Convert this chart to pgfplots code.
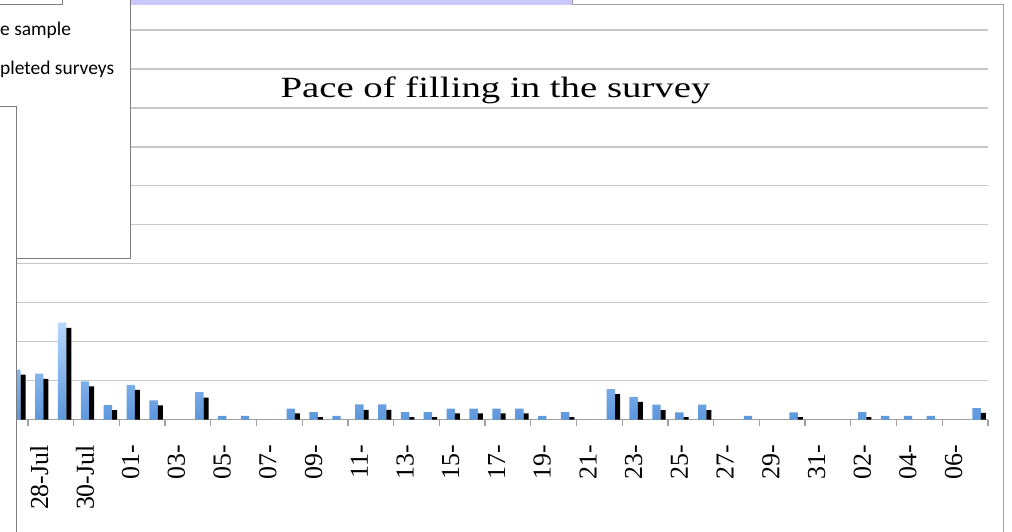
\documentclass[border=0pt]{standalone}
\usepackage{pgfplots}
\pgfplotsset{compat=1.18}
\usepackage{fontspec}
\setmainfont{Liberation Serif}
\newfontfamily\titlefont[FakeStretch=1.32]{Liberation Serif}
\newfontfamily\legfont{Carlito}

\definecolor{barhi}{RGB}{182,216,252}
\definecolor{barlo}{RGB}{92,150,220}
\definecolor{gridgray}{RGB}{200,200,200}
\definecolor{axisgray}{RGB}{160,160,160}
\definecolor{boxgray}{RGB}{125,125,125}
\definecolor{band}{RGB}{202,202,250}

\begin{document}
\begin{tikzpicture}
\useasboundingbox (0,0) rectangle (1012bp,532bp);
\clip (0,0) rectangle (1012bp,532bp);
\begin{axis}[
    at={(5bp,112.5bp)}, anchor=south west,
    width=983bp, height=389.5bp, scale only axis,
    xmin=0.5, xmax=43.5, ymin=0, ymax=100,
    ybar,
    axis x line*=bottom, axis y line*=left,
    x axis line style={draw=axisgray, line width=1.3bp},
    y axis line style={draw=none},
    ytick={0,10,...,100}, yticklabels={}, ytick style={draw=none},
    ymajorgrids, major grid style={draw=gridgray, line width=1.4bp},
    xtick={2,4,...,42},
    xticklabels={28-Jul,30-Jul,01-,03-,05-,07-,09-,11-,13-,15-,17-,19-,21-,23-,25-,27-,29-,31-,02-,04-,06-},
    major tick length=0pt, tick align=outside,
    xticklabel style={rotate=90, anchor=east, inner sep=0pt, xshift=1.5bp, font=\fontsize{26}{26}\selectfont},
    xticklabel shift=27bp,
    extra x ticks={1.5,3.5,...,43.5}, extra x tick labels={},
    extra x tick style={major tick length=7bp, tick style={draw=axisgray, line width=1.3bp}},
  ]
  % sample
  \addplot[bar width=8.4bp, bar shift=0bp, draw=none, top color=barhi, bottom color=barlo] coordinates {
    (1,12.8) (2,11.8) (3,24.9) (4,9.8) (5,3.7) (6,8.9) (7,4.9) (9,7.0) (10,0.9) (11,0.9)
    (13,2.8) (14,1.9) (15,0.9) (16,3.9) (17,3.9) (18,1.9) (19,1.9) (20,2.8) (21,2.8) (22,2.8)
    (23,2.8) (24,0.9) (25,1.9) (27,7.8) (28,5.8) (29,3.8) (30,1.8) (31,3.8) (33,0.9) (35,1.8)
    (38,1.9) (39,0.9) (40,0.9) (41,0.9) (43,2.9)
  };
  % completed surveys
  \addplot[bar width=5bp, bar shift=6.7bp, draw=none, fill=black] coordinates {
    (1,11.5) (2,10.4) (3,23.5) (4,8.5) (5,2.4) (6,7.6) (7,3.6) (9,5.6) (13,1.55) (14,0.6)
    (16,2.5) (17,2.5) (18,0.6) (19,0.6) (20,1.55) (21,1.55) (22,1.55) (23,1.55) (25,0.6)
    (27,6.5) (28,4.5) (29,2.4) (30,0.6) (31,2.4) (35,0.6) (38,0.6) (43,1.7)
  };
\end{axis}

% chart frame and top band
\fill[band] (130bp,527bp) rectangle (572bp,533bp);
\draw[axisgray, line width=1bp] (572bp,533bp) -- (572bp,527bp) -- (1003bp,527bp) -- (1003bp,-1bp);

% title
\node[anchor=base, inner sep=0pt, font=\titlefont\fontsize{29.5}{29.5}\selectfont] at (495.5bp,434bp) {Pace of filling in the survey};

% legend box, cut off at the left
\filldraw[fill=white, draw=boxgray, line width=1bp] (-2bp,273bp) rectangle (130bp,534bp);
\draw[boxgray, line width=1bp] (-2bp,527bp) -- (62bp,527bp) -- (62bp,534bp);
\node[anchor=base west, inner sep=0pt, font=\legfont\fontsize{19.5}{19.5}\selectfont] at (0bp,496bp) {e sample};
\node[anchor=base west, inner sep=0pt, font=\legfont\fontsize{19.5}{19.5}\selectfont] at (0bp,457bp) {pleted surveys};

% box overlapping the left edge
\filldraw[fill=white, draw=boxgray, line width=1bp] (-2bp,-2bp) rectangle (16bp,425bp);
\end{tikzpicture}
\end{document}
